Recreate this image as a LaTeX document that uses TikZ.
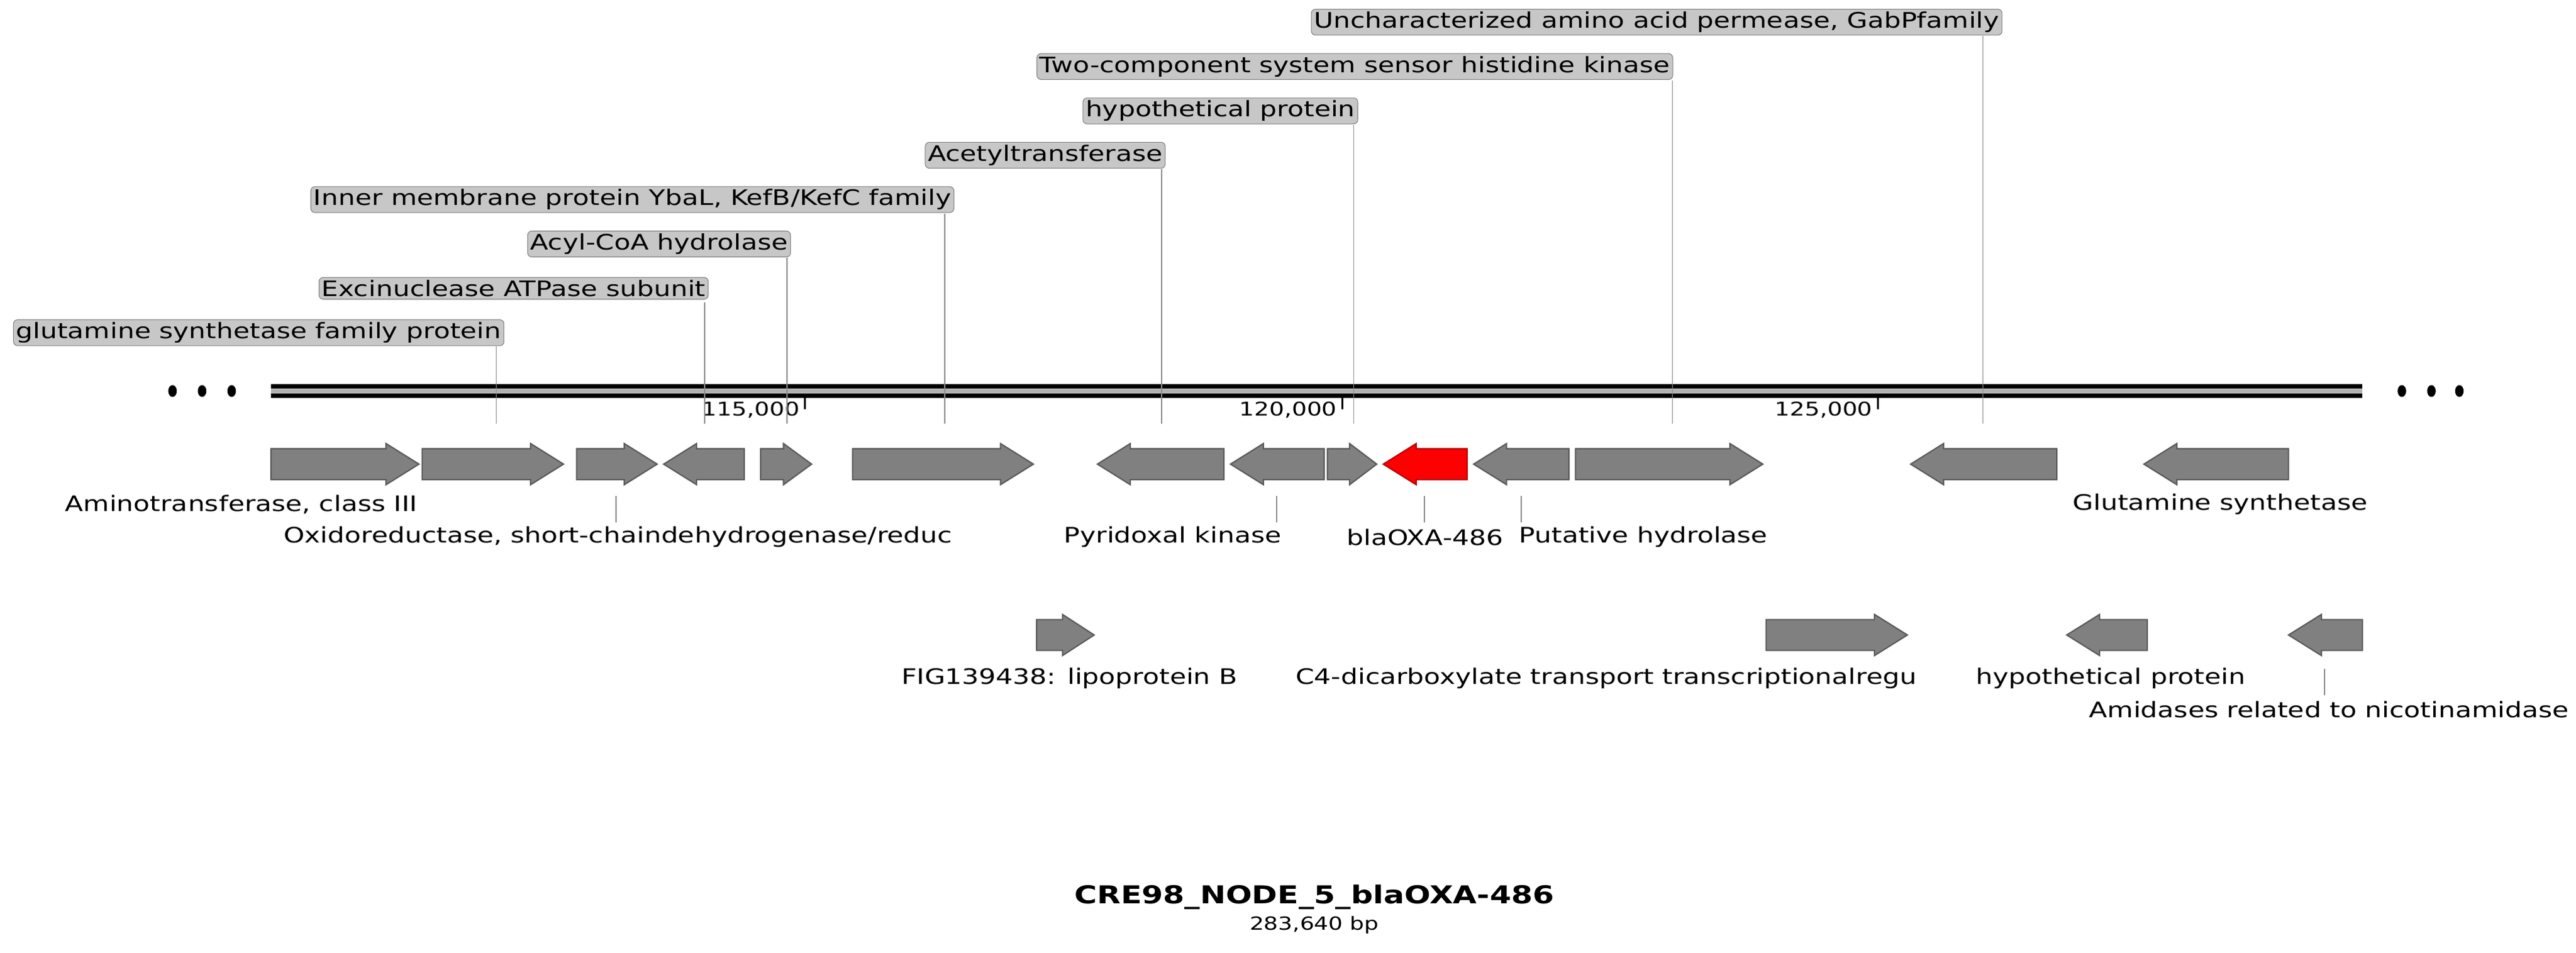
\documentclass[tikz,border=0pt]{standalone}
\usepackage{fontspec}
\setmainfont{DejaVu Sans}
\newcommand{\W}[1]{\scalebox{1.25}[1]{#1}}
\begin{document}
\begin{tikzpicture}[x=1pt,y=1pt,
  genebox/.style={fill=gray!100!white,draw=black!65,line width=0.8pt},
  genered/.style={fill=red,draw=red!70!black,line width=0.8pt},
  lab/.style={font=\fontsize{13}{15}\selectfont,inner sep=1.5pt,anchor=west},
  toplab/.style={lab,fill=black!22,draw=black!50,rounded corners=2.5pt,inner sep=1.6pt},
  lead/.style={draw=black!45,line width=0.6pt},
  ticklab/.style={font=\fontsize{11.5}{13}\selectfont,anchor=east,inner sep=1pt}]
\useasboundingbox (0,0) rectangle (1568,-580);
\newcommand{\rgene}[4]{%
  \pgfmathsetmacro{\hl}{min(20,0.55*(#2-#1))}%
  \draw[#4] (#1,#3+9.4) -- ({#2-\hl},#3+9.4) -- ({#2-\hl},#3+12.5) -- (#2,#3) -- ({#2-\hl},#3-12.5) -- ({#2-\hl},#3-9.4) -- (#1,#3-9.4) -- cycle;}
\newcommand{\lgene}[4]{%
  \pgfmathsetmacro{\hl}{min(20,0.55*(#2-#1))}%
  \draw[#4] (#2,#3+9.4) -- ({#1+\hl},#3+9.4) -- ({#1+\hl},#3+12.5) -- (#1,#3) -- ({#1+\hl},#3-12.5) -- ({#1+\hl},#3-9.4) -- (#2,#3-9.4) -- cycle;}
% backbone
\fill[black!30] (165,-236) rectangle (1438,-240);
\draw[black,line width=2.6pt] (165,-235) -- (1438,-235);
\draw[black,line width=2.6pt] (165,-241) -- (1438,-241);
\foreach \x in {105,123,141,1462,1480,1497} \fill[black] (\x,-238) ellipse (2.6 and 3.6);
% ticks
\foreach \x/\t in {490/{115,000},817/{120,000},1143/{125,000}}{
  \draw[black,line width=1.2pt] (\x,-242) -- (\x,-249);
  \node[ticklab] at (\x-2,-249.5) {\W{\t}};}
% leader lines for top labels
\foreach \x/\y in {302/211,429/184,479/157,575/130,707/103,824/76,1018/49,1207/22}
  \draw[lead] (\x,-\y) -- (\x,-258);
% top labels
\node[toplab] (t1) at (8,-202.5) {\W{glutamine synthetase family protein}};
\node[toplab] (t2) at (194,-175.5) {\W{Excinuclease ATPase subunit}};
\node[toplab] (t3) at (321,-148.5) {\W{Acyl-CoA hydrolase}};
\node[toplab] (t4) at (189,-121.5) {\W{Inner membrane protein YbaL, KefB/KefC family}};
\node[toplab] (t5) at (563,-94.5) {\W{Acetyltransferase}};
\node[toplab] (t6) at (659,-67.5) {\W{hypothetical protein}};
\node[toplab] (t7) at (631,-40.5) {\W{Two-component system sensor histidine kinase}};
\node[toplab] (t8) at (798,-13.5) {\W{Uncharacterized amino acid permease, GabPfamily}};
% genes row 1
\rgene{165}{255}{-282.5}{genebox}
\rgene{257}{343}{-282.5}{genebox}
\rgene{351}{400}{-282.5}{genebox}
\lgene{404}{453}{-282.5}{genebox}
\rgene{463}{494}{-282.5}{genebox}
\rgene{519}{629}{-282.5}{genebox}
\lgene{668}{745}{-282.5}{genebox}
\lgene{749}{806}{-282.5}{genebox}
\rgene{808}{838}{-282.5}{genebox}
\lgene{842}{893}{-282.5}{genered}
\lgene{897}{955}{-282.5}{genebox}
\rgene{959}{1073}{-282.5}{genebox}
\lgene{1163}{1252}{-282.5}{genebox}
\lgene{1305}{1393}{-282.5}{genebox}
% genes row 2
\rgene{631}{666}{-386.5}{genebox}
\rgene{1075}{1161}{-386.5}{genebox}
\lgene{1258}{1307}{-386.5}{genebox}
\lgene{1393}{1438}{-386.5}{genebox}
% bottom leaders
\foreach \x/\a/\b in {375/302/318,777/302/318,867/302/318,926/302/318,1415/407/423}
  \draw[lead] (\x,-\a) -- (\x,-\b);
% bottom labels
\node[lab] (b1) at (38,-307) {\W{Aminotransferase, class III}};
\node[lab] (b2) at (171,-327) {\W{Oxidoreductase, short-chaindehydrogenase/reduc}};
\node[lab] (b3) at (646,-327) {\W{Pyridoxal kinase}};
\node[lab] (b4) at (818,-327) {\W{blaOXA-486}};
\node[lab] (b5) at (923,-327) {\W{Putative hydrolase}};
\node[lab] (b6) at (1260,-307) {\W{Glutamine synthetase}};
\node[lab] (b7) at (547,-413) {\W{FIG139438: lipoprotein B}};
\node[lab] (b8) at (787,-413) {\W{C4-dicarboxylate transport transcriptionalregu}};
\node[lab] (b9) at (1201,-413) {\W{hypothetical protein}};
\node[lab] (b10) at (1270,-432) {\W{Amidases related to nicotinamidase}};
% title
\node[font=\bfseries\fontsize{15}{17}\selectfont] (title) at (800,-546) {\scalebox{1.25}[1]{CRE98\_NODE\_5\_blaOXA-486}};
\node[font=\fontsize{11}{13}\selectfont] (len) at (800,-563) {\W{283,640 bp}};
\end{tikzpicture}
\end{document}
